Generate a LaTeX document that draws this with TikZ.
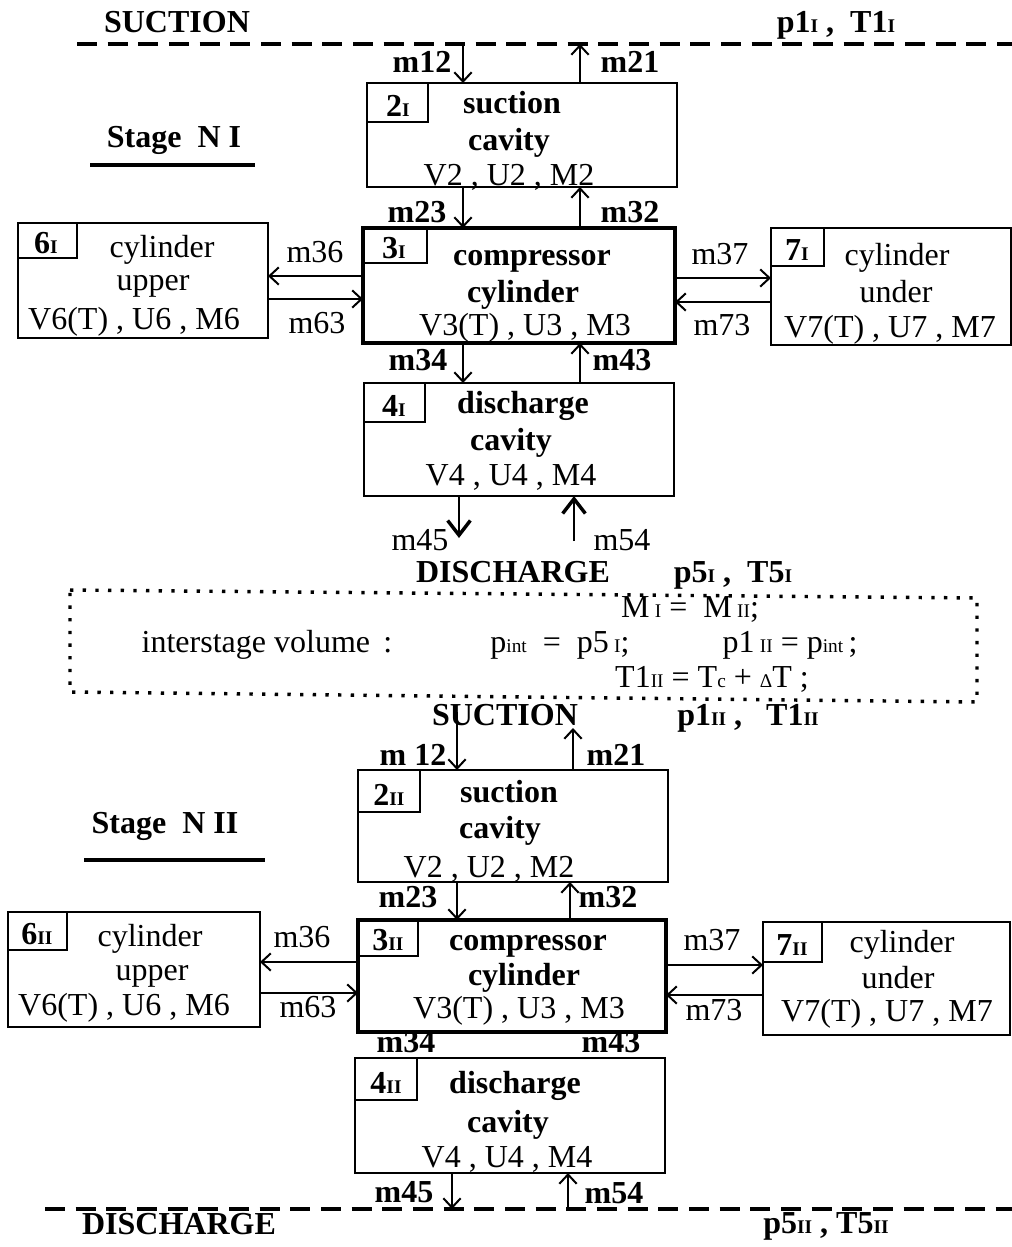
\documentclass[tikz,border=0pt]{standalone}
\usepackage{fontspec}
\setmainfont{Liberation Serif}
\usetikzlibrary{arrows.meta,fit}
\newcommand{\smt}[1]{{\fontsize{14.5}{14.5}\selectfont #1}}
\begin{document}
\begin{tikzpicture}[x=0.75pt,y=-0.75pt,
 every node/.style={inner sep=0pt,outer sep=0pt},
 txt/.style={anchor=base,font=\fontsize{24}{28}\selectfont},
 btxt/.style={anchor=base,font=\fontsize{24}{28}\selectfont\bfseries},
 box/.style={draw,line width=1.6pt,inner sep=0pt},
 tbox/.style={draw,line width=2.4pt,inner sep=0pt},
 lbox/.style={draw,line width=1.3pt,inner sep=0pt},
 flow/.style={line width=1.5pt,-{Straight Barb[length=7pt,width=13pt,line width=1.5pt]}},
 bflow/.style={line width=2.2pt,-{Straight Barb[length=11pt,width=17pt,line width=2.6pt]}},
 dashline/.style={line width=2.4pt,dash pattern=on 15pt off 8pt},
 dotline/.style={line width=2.6pt,dash pattern=on 2.5pt off 7pt},
 uline/.style={line width=3pt}
]
\useasboundingbox (0,0) rectangle (1012,1247);
\fill[white] (0,0) rectangle (1012,1247);

% ---------------- Stage I ----------------
\coordinate (dtL) at (77,44);
\coordinate (dtR) at (1012,44);
\draw[dashline] (dtL) -- (dtR);
\node[btxt] (tSucI) at (177,32) {SUCTION};
\node[btxt] (tp1I) at (836,32) {p1\smt{I} , \ T1\smt{I}};
\node[btxt] (tStI) at (174,147) {Stage\ \ N I};
\coordinate (uI1) at (90,165); \coordinate (uI2) at (255,165);
\draw[uline] (uI1) -- (uI2);

\coordinate (cI1) at (463,0);
\coordinate (cI2) at (580,0);

% box 2I
\node[box,fit={(367,83) (677,187)}] (b2I) {};
\node[lbox,fit={(367,83) (428,122)}] (l2I) {};
\node[btxt] (n2I) at (398,116) {2\smt{I}};
\node[btxt] (t2Ia) at (512,113) {suction};
\node[btxt] (t2Ib) at (509,150) {cavity};
\node[txt] (t2Ic) at (509,185) {V2 , U2 , M2};

\draw[flow] (dtL -| cI1) -- (b2I.north -| cI1);
\draw[flow] (b2I.north -| cI2) -- (dtL -| cI2);
\node[btxt] (m12I) at (422,72) {m12};
\node[btxt] (m21I) at (630,72) {m21};

% box 3I
\node[tbox,fit={(363,228) (675,343)}] (b3I) {};
\node[lbox,fit={(363,228) (427,263)}] (l3I) {};
\node[btxt] (n3I) at (394,258) {3\smt{I}};
\node[btxt] (t3Ia) at (532,265) {compressor};
\node[btxt] (t3Ib) at (523,302) {cylinder};
\node[txt] (t3Ic) at (525,335) {V3(T) , U3 , M3};

\draw[flow] (b2I.south -| cI1) -- (b3I.north -| cI1);
\draw[flow] (b3I.north -| cI2) -- (b2I.south -| cI2);
\node[btxt] (m23I) at (417,222) {m23};
\node[btxt] (m32I) at (630,222) {m32};

% box 6I
\node[box,fit={(18,223) (268,338)}] (b6I) {};
\node[lbox,fit={(18,223) (77,258)}] (l6I) {};
\node[btxt] (n6I) at (46,253) {6\smt{I}};
\node[txt] (t6Ia) at (162,257) {cylinder};
\node[txt] (t6Ib) at (153,290) {upper};
\node[txt] (t6Ic) at (134,329) {V6(T) , U6 , M6};

\coordinate (rI1) at (0,276);
\coordinate (rI2) at (0,299);
\draw[flow] (b3I.west |- rI1) -- (b6I.east |- rI1);
\draw[flow] (b6I.east |- rI2) -- (b3I.west |- rI2);
\node[txt] (m36I) at (315,262) {m36};
\node[txt] (m63I) at (317,333) {m63};

% box 7I
\node[box,fit={(771,228) (1011,345)}] (b7I) {};
\node[lbox,fit={(771,228) (824,266)}] (l7I) {};
\node[btxt] (n7I) at (797,260) {7\smt{I}};
\node[txt] (t7Ia) at (897,265) {cylinder};
\node[txt] (t7Ib) at (896,302) {under};
\node[txt] (t7Ic) at (890,337) {V7(T) , U7 , M7};

\coordinate (rI3) at (0,278);
\coordinate (rI4) at (0,302);
\draw[flow] (b3I.east |- rI3) -- (b7I.west |- rI3);
\draw[flow] (b7I.west |- rI4) -- (b3I.east |- rI4);
\node[txt] (m37I) at (720,264) {m37};
\node[txt] (m73I) at (722,335) {m73};

% box 4I
\node[box,fit={(364,383) (674,496)}] (b4I) {};
\node[lbox,fit={(364,383) (425,422)}] (l4I) {};
\node[btxt] (n4I) at (394,416) {4\smt{I}};
\node[btxt] (t4Ia) at (523,413) {discharge};
\node[btxt] (t4Ib) at (511,450) {cavity};
\node[txt] (t4Ic) at (511,485) {V4 , U4 , M4};

\draw[flow] (b3I.south -| cI1) -- (b4I.north -| cI1);
\draw[flow] (b4I.north -| cI2) -- (b3I.south -| cI2);
\node[btxt] (m34I) at (418,370) {m34};
\node[btxt] (m43I) at (622,370) {m43};

\coordinate (eI1) at (459,538);
\coordinate (eI2) at (574,541);
\draw[bflow] (b4I.south -| eI1) -- (eI1);
\draw[bflow] (eI2) -- (b4I.south -| eI2);
\node[txt] (m45I) at (420,550) {m45};
\node[txt] (m54I) at (622,550) {m54};

\node[btxt] (tDisI) at (513,582) {DISCHARGE};
\node[btxt] (tp5I) at (733,582) {p5\smt{I} , \ T5\smt{I}};

% ---------------- interstage ----------------
\coordinate (iA) at (70,590);
\coordinate (iB) at (977,598);
\coordinate (iC) at (977,702);
\coordinate (iD) at (70,692);
\draw[dotline] (iA) -- (iB) -- (iC) -- (iD) -- cycle;
\node[txt] (iM) at (690,617) {M\,\smt{I} =\ \ M\,\smt{II};};
\node[txt] (iT) at (267,652) {interstage volume\hspace{10pt}:};
\node[txt] (iP) at (560,652) {p\smt{int}\ \ =\ \ p5\,\smt{I};};
\node[txt] (iQ) at (790,652) {p1\,\smt{II} = p\smt{int}\,;};
\node[txt] (iR) at (712,687) {T1\smt{II} = T\smt{c} + \smt{Δ}T ;};

\node[btxt] (tSucII) at (505,725) {SUCTION};
\node[btxt] (tp1II) at (748,725) {p1\smt{II} ,\ \ \ T1\smt{II}};

% ---------------- Stage II ----------------
\node[btxt] (tStII) at (165,833) {Stage\ \ N II};
\coordinate (uII1) at (84,860); \coordinate (uII2) at (265,860);
\draw[uline] (uII1) -- (uII2);

\coordinate (cII1) at (457,712);
\coordinate (cII2) at (573,728);
\coordinate (cII3) at (452,0);
\coordinate (cII4) at (568,0);
\coordinate (cII5) at (570,0);

% box 2II
\node[box,fit={(358,770) (668,882)}] (b2II) {};
\node[lbox,fit={(358,770) (420,812)}] (l2II) {};
\node[btxt] (n2II) at (389,805) {2\smt{II}};
\node[btxt] (t2IIa) at (509,802) {suction};
\node[btxt] (t2IIb) at (500,838) {cavity};
\node[txt] (t2IIc) at (489,877) {V2 , U2 , M2};

\draw[flow] (cII1) -- (b2II.north -| cII1);
\draw[flow] (b2II.north -| cII2) -- (cII2);
\node[btxt] (m12II) at (413,765) {m 12};
\node[btxt] (m21II) at (616,765) {m21};

% box 3II
\node[tbox,fit={(358,920) (666,1032)}] (b3II) {};
\node[lbox,fit={(358,920) (418,956)}] (l3II) {};
\node[btxt] (n3II) at (388,950) {3\smt{II}};
\node[btxt] (t3IIa) at (528,950) {compressor};
\node[btxt] (t3IIb) at (524,985) {cylinder};
\node[txt] (t3IIc) at (519,1018) {V3(T) , U3 , M3};

\draw[flow] (b2II.south -| cII1) -- (b3II.north -| cII1);
\draw[flow] (b3II.north -| cII5) -- (b2II.south -| cII5);
\node[btxt] (m23II) at (408,907) {m23};
\node[btxt] (m32II) at (608,907) {m32};

% box 6II
\node[box,fit={(8,912) (260,1027)}] (b6II) {};
\node[lbox,fit={(8,912) (67,950)}] (l6II) {};
\node[btxt] (n6II) at (37,944) {6\smt{II}};
\node[txt] (t6IIa) at (150,946) {cylinder};
\node[txt] (t6IIb) at (152,980) {upper};
\node[txt] (t6IIc) at (124,1015) {V6(T) , U6 , M6};

\coordinate (rII1) at (0,962);
\coordinate (rII2) at (0,993);
\draw[flow] (b3II.west |- rII1) -- (b6II.east |- rII1);
\draw[flow] (b6II.east |- rII2) -- (b3II.west |- rII2);
\node[txt] (m36II) at (302,947) {m36};
\node[txt] (m63II) at (308,1017) {m63};

% box 7II
\node[box,fit={(763,922) (1010,1035)}] (b7II) {};
\node[lbox,fit={(763,922) (822,962)}] (l7II) {};
\node[btxt] (n7II) at (792,955) {7\smt{II}};
\node[txt] (t7IIa) at (902,952) {cylinder};
\node[txt] (t7IIb) at (898,988) {under};
\node[txt] (t7IIc) at (887,1021) {V7(T) , U7 , M7};

\coordinate (rII3) at (0,965);
\coordinate (rII4) at (0,995);
\draw[flow] (b3II.east |- rII3) -- (b7II.west |- rII3);
\draw[flow] (b7II.west |- rII4) -- (b3II.east |- rII4);
\node[txt] (m37II) at (712,950) {m37};
\node[txt] (m73II) at (714,1020) {m73};

% box 4II
\node[btxt] (m34II) at (406,1052) {m34};
\node[btxt] (m43II) at (611,1052) {m43};
\node[box,fit={(355,1058) (665,1173)}] (b4II) {};
\node[lbox,fit={(355,1058) (417,1100)}] (l4II) {};
\node[btxt] (n4II) at (386,1093) {4\smt{II}};
\node[btxt] (t4IIa) at (515,1093) {discharge};
\node[btxt] (t4IIb) at (508,1132) {cavity};
\node[txt] (t4IIc) at (507,1167) {V4 , U4 , M4};

\coordinate (dbL) at (45,1209);
\coordinate (dbR) at (1012,1209);
\draw[dashline] (dbL) -- (dbR);
\draw[flow] (b4II.south -| cII3) -- (dbL -| cII3);
\draw[flow] (dbL -| cII4) -- (b4II.south -| cII4);
\node[btxt] (m45II) at (404,1202) {m45};
\node[btxt] (m54II) at (614,1203) {m54};

\node[btxt] (tDisII) at (179,1234) {DISCHARGE};
\node[btxt] (tp5II) at (826,1233) {p5\smt{II} , T5\smt{II}};
\end{tikzpicture}
\end{document}
